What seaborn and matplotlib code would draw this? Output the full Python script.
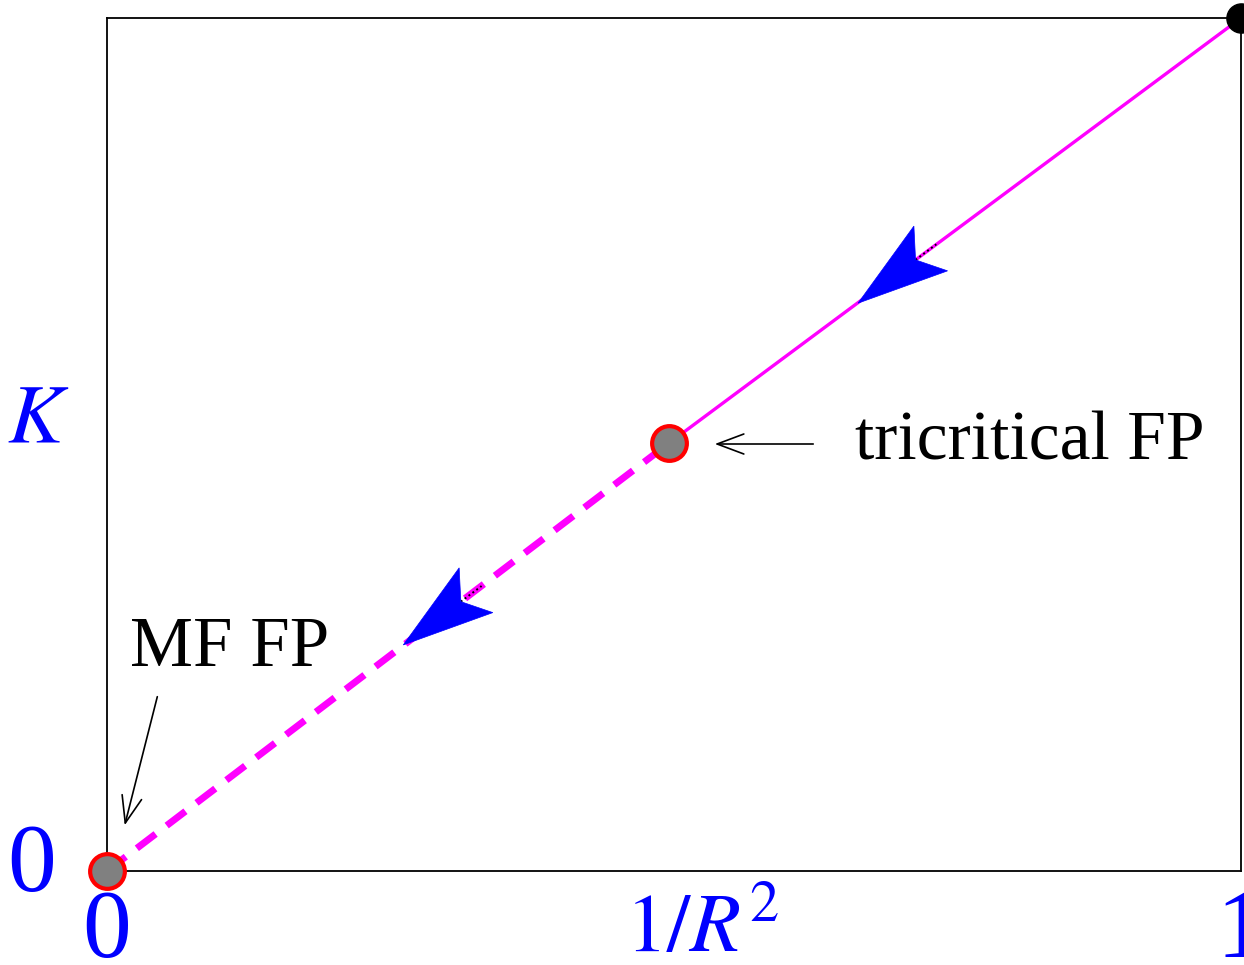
import numpy as np
import pandas as pd
import matplotlib
matplotlib.use("Agg")
import matplotlib.pyplot as plt
import matplotlib.transforms as mtransforms
from matplotlib.patches import Polygon
import seaborn as sns

# ---- data ----
flow_x = [0.0, 0.496, 1.0]        # 1/R^2 axis (fraction)
flow_k = [0.0, 0.502, 1.0]        # K axis
fp_names = ["MF FP", "tricritical FP"]
fp_x = [0.0, 0.496]
fp_k = [0.0, 0.502]
start_x, start_k = 1.0, 1.0
arrow_pos = [0.713, 0.312]        # notch positions of the flow arrows (x along diagonal)
xtick_vals = [0.0, 0.496, 1.0]
xtick_labels = ["0", r"$1/R^2$", "1"]
ytick_vals = [0.0]
ytick_labels = ["0"]

sns.set_theme(style="white")
plt.rcParams["font.family"] = ["Liberation Serif", "DejaVu Serif"]
plt.rcParams["mathtext.fontset"] = "stix"

fig = plt.figure(figsize=(12.44, 9.65), dpi=100)
ax = fig.add_axes([107/1244, 94/965, 1134/1244, 853/965])
ax.set_xlim(0, 1)
ax.set_ylim(0, 1)

df_solid = pd.DataFrame({"x": flow_x[1:], "k": flow_k[1:]})
df_dash = pd.DataFrame({"x": flow_x[:2], "k": flow_k[:2]})
sns.lineplot(data=df_solid, x="x", y="k", ax=ax, color="#ff00ff", lw=2.4, zorder=3)
sns.lineplot(data=df_dash, x="x", y="k", ax=ax, color="#ff00ff", lw=5, zorder=3,
             dashes=False, linestyle=(0, (3.4, 2.0)))

# flow arrowheads (stealth shape), sized in pixels and converted to data units
W, H = 1134.0, 853.0
ux, uy = -W, -H
norm = np.hypot(ux, uy)
ux, uy = ux / norm, uy / norm      # in pixel space (y up)
nx, ny = -uy, ux
def px_to_data(px, py):
    return px / W, py / H
for p in arrow_pos:
    cx = p
    cy = np.interp(p, flow_x, flow_k)
    pts_px = [(72, 0), (-19, 28), (0, 0), (-19, -28)]
    poly = []
    for a, b in pts_px:
        dxp = a * ux + b * nx
        dyp = a * uy + b * ny
        ddx, ddy = px_to_data(dxp, dyp)
        poly.append((cx + ddx, cy + ddy))
    ax.add_patch(Polygon(poly, closed=True, facecolor="#0000ff", edgecolor="#0000ff",
                         lw=0.5, zorder=5))
    # small dotted tail
    t1 = px_to_data(-26 * ux, -26 * uy)
    ax.plot([cx, cx + t1[0]], [cy, cy + t1[1]], color="black",
            lw=1.4, linestyle=(0, (1, 1.5)), zorder=4)

# fixed points
ax.scatter(fp_x, fp_k, s=25**2, facecolor="#808080", edgecolor="#ff0000",
           linewidth=3, zorder=6, clip_on=False)
ax.scatter([start_x], [start_k], s=21**2, color="black", zorder=6, clip_on=False)

# annotations
ax.annotate("", xy=(712/1244, (965-444)/965), xytext=(816/1244, (965-444)/965),
            xycoords="figure fraction", textcoords="figure fraction",
            arrowprops=dict(arrowstyle="->,head_length=1.6,head_width=0.6", color="black", lw=1.2))
ax.text(855/1244, (965-443)/965, fp_names[1], transform=fig.transFigure,
        fontsize=50, color="black", ha="left", va="center")
ax.annotate("", xy=(124/1244, (965-828)/965), xytext=(158/1244, (965-694)/965),
            xycoords="figure fraction", textcoords="figure fraction",
            arrowprops=dict(arrowstyle="->,head_length=1.6,head_width=0.6", color="black", lw=1.2))
ax.text(130/1244, (965-648)/965, fp_names[0], transform=fig.transFigure,
        fontsize=51, color="black", ha="left", va="center")

# axes styling
for s in ax.spines.values():
    s.set_visible(True)
    s.set_color("black")
    s.set_linewidth(1.3)
ax.set_xticks(xtick_vals)
ax.set_xticklabels(xtick_labels, fontsize=70, color="#0000ff")
ax.set_yticks(ytick_vals)
ax.set_yticklabels(ytick_labels, fontsize=70, color="#0000ff")
ax.tick_params(axis="x", length=0, pad=13)
ax.tick_params(axis="y", length=0, pad=37)
ax.set_xlabel("")
ax.set_ylabel("")
lab = ax.get_xticklabels()[1]
lab.set_fontsize(60)
lab.set_transform(lab.get_transform() + mtransforms.ScaledTranslation(33/100, -6/100, fig.dpi_scale_trans))
ylab = ax.get_yticklabels()[0]
ylab.set_transform(ylab.get_transform() + mtransforms.ScaledTranslation(0, 14/100, fig.dpi_scale_trans))
ax.text(38/1244, (965-422)/965, r"$K$", transform=fig.transFigure, fontsize=60,
        color="#0000ff", ha="center", va="center")

fig.savefig("out.png", dpi=100)
